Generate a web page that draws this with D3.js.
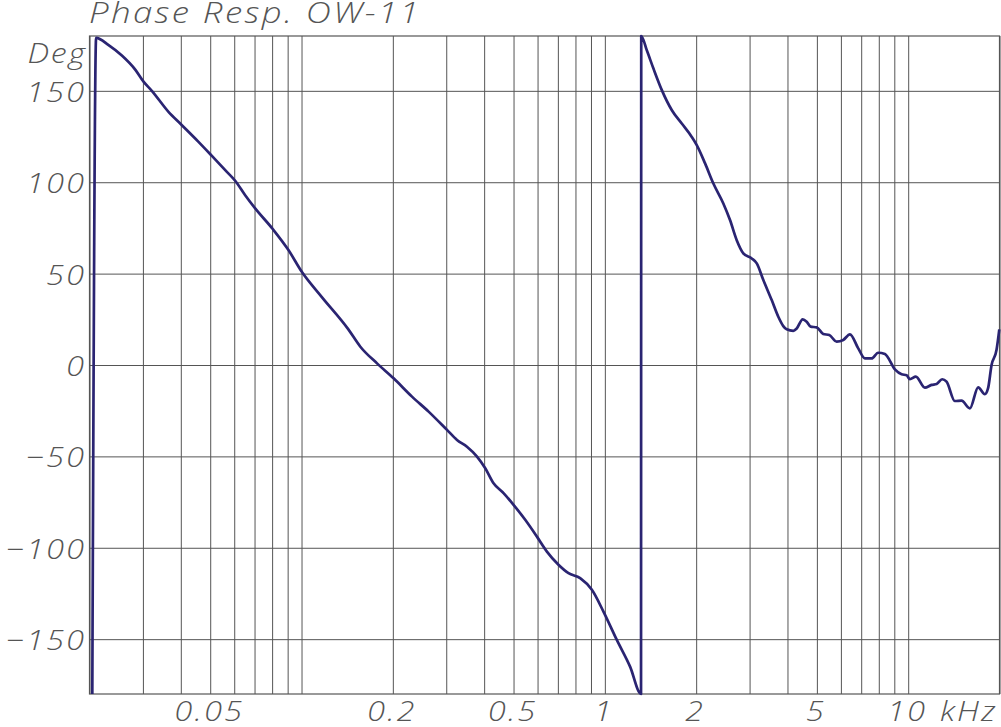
<!DOCTYPE html>
<html>
<head>
<meta charset="utf-8">
<script src="https://cdn.jsdelivr.net/npm/d3@7"></script>
<style>
  html, body { margin: 0; padding: 0; background: #fff; }
  svg { display: block; }
  .lbl { font-family: "Open Sans", "DejaVu Sans", sans-serif; font-style: italic; font-weight: 300; fill: #555; }
</style>
</head>
<body>
<svg id="chart" width="1001" height="727"></svg>
<script>
// ---- data (frequency in kHz, phase in degrees) ----
const freqKHz = [
  0.02043, 0.02103, 0.02312, 0.02557, 0.02830, 0.03014, 0.03210, 0.03643, 0.04011, 0.04575,
  0.05038, 0.05604, 0.06044, 0.06520, 0.07035, 0.08037, 0.09055, 0.1002, 0.1165, 0.1427,
  0.1563, 0.1774, 0.2012, 0.2313, 0.2624, 0.3017, 0.3255, 0.3511, 0.3789, 0.4034,
  0.4296, 0.4634, 0.5000, 0.5463, 0.5971, 0.6441, 0.7032, 0.7588, 0.8291, 0.9061,
  0.9894, 1.095, 1.211, 1.316, 1.318, 1.375, 1.446, 1.541, 1.663, 1.793,
  1.934, 2.009, 2.140, 2.279, 2.458, 2.586, 2.721, 2.861, 3.050, 3.168,
  3.330, 3.549, 3.731, 3.875, 3.977, 4.181, 4.290, 4.490, 4.628, 4.770,
  4.992, 5.248, 5.493, 5.810, 6.108, 6.427, 6.844, 7.201, 7.576, 7.965,
  8.381, 9.042, 9.513, 9.879, 10.13, 10.60, 11.35, 11.94, 12.41, 12.94,
  13.38, 14.25, 14.99, 15.97, 17.01, 17.89, 18.34, 18.83, 19.55, 19.97
];
const phaseDeg = [
  -180, 179, 175, 169.3, 161.6, 155, 150, 138.5, 131.6, 122.1,
  114.8, 106.6, 100.8, 92.9, 85.7, 74.4, 62.9, 51, 37.3, 19.5,
  10, 0.9, -7.3, -17.3, -25.5, -35.5, -41, -44.7, -50.1, -56.5,
  -64.7, -70.1, -76.5, -84.7, -93.9, -102.1, -109.3, -113.9, -116.6, -123,
  -134.9, -150.4, -165, -180, 180, 172.2, 162.2, 150.4, 139.4, 132.1,
  124.8, 120.3, 110.3, 99.3, 88.4, 79.3, 68.3, 61.1, 58.3, 55.6,
  46.5, 35.5, 26.4, 21.3, 19.5, 18.7, 20, 25, 23.7, 21,
  20.6, 17, 16.4, 12.8, 13.7, 16.8, 9.1, 3.6, 3.6, 6.7,
  6, -2.4, -5.1, -5.6, -7.8, -6.4, -12.4, -10.9, -10.4, -7.8,
  -9.1, -19.7, -19.5, -23.7, -12.2, -16, -12.7, 0, 8.2, 19.5
];
const xTickValues = [0.05, 0.2, 0.5, 1, 2, 5, 10];
const xTickLabels = ["0.05", "0.2", "0.5", "1", "2", "5", "10"];
const yTickValues = [150, 100, 50, 0, -50, -100, -150];
const yTickLabels = ["150", "100", "50", "0", "\u221250", "\u2212100", "\u2212150"];
const xDomain = [0.02, 20];
const yDomain = [-180, 180];
const titleText = "Phase Resp. OW-11";
const yUnit = "Deg";
const xUnit = "kHz";

// ---- layout ----
const pLeft = 89.5, pRight = 999.5, pTop = 36, pBottom = 694;
const svg = d3.select("#chart");
svg.append("rect").attr("width", 1001).attr("height", 727).attr("fill", "#fff");

const x = d3.scaleLog().domain(xDomain).range([pLeft, pRight]);
const y = d3.scaleLinear().domain(yDomain).range([pBottom, pTop]);

const gridColor = "#555";

// vertical grid lines (log ticks 1..9 per decade)
svg.append("g")
  .attr("transform", `translate(0,${pBottom})`)
  .call(d3.axisBottom(x).ticks(30).tickSize(-(pBottom - pTop)).tickFormat(""))
  .call(g => g.select(".domain").remove())
  .call(g => g.selectAll(".tick line").attr("stroke", gridColor).attr("stroke-width", 1));

// horizontal grid lines
svg.append("g")
  .attr("transform", `translate(${pLeft},0)`)
  .call(d3.axisLeft(y).tickValues(yTickValues).tickSize(-(pRight - pLeft)).tickFormat(""))
  .call(g => g.select(".domain").remove())
  .call(g => g.selectAll(".tick line").attr("stroke", gridColor).attr("stroke-width", 1));

// frame
svg.append("rect")
  .attr("x", pLeft).attr("y", pTop)
  .attr("width", pRight - pLeft).attr("height", pBottom - pTop)
  .attr("fill", "none").attr("stroke", gridColor).attr("stroke-width", 1.2);

// curve
const pts = freqKHz.map((f, i) => [f, phaseDeg[i]]);
svg.append("path")
  .datum(pts)
  .attr("fill", "none")
  .attr("stroke", "#2a2472")
  .attr("stroke-width", 2.7)
  .attr("stroke-linejoin", "round")
  .attr("d", d3.line().curve(d3.curveMonotoneX).x(d => x(d[0])).y(d => y(d[1])));

// text helper: wide italic stroke-like labels
const fs = 28, ls = 2, sx = 1.15;
function label(g, tx, ty, txt, anchor, size, spacing, scaleX) {
  const shift = anchor === "end" ? spacing * scaleX : anchor === "middle" ? spacing * scaleX / 2 : 0;
  return g.append("text")
    .attr("class", "lbl")
    .attr("transform", `translate(${tx + shift},${ty}) scale(${scaleX},1)`)
    .attr("text-anchor", anchor)
    .attr("font-size", size)
    .attr("letter-spacing", spacing)
    .text(txt);
}

const gy = svg.append("g");
yTickValues.forEach((v, i) => label(gy, 84, y(v) + 11, yTickLabels[i], "end", fs, ls, sx));

const gx = svg.append("g");
xTickValues.forEach((v, i) => label(gx, x(v) - 2, 721, xTickLabels[i], "middle", fs, ls, sx));

label(svg, 940, 721, xUnit, "start", fs, ls, sx);
label(svg, 85, 63, yUnit, "end", fs, 1.5, sx);
label(svg, 89, 23, titleText, "start", 29, 2, 1.2);
</script>
</body>
</html>
